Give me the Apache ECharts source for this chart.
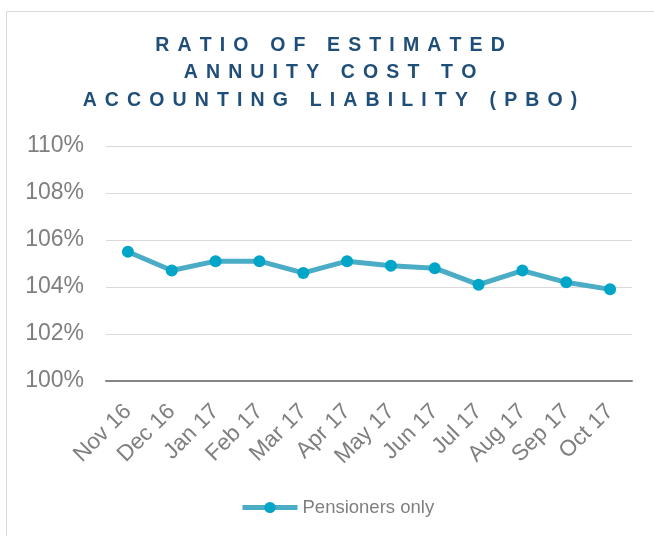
<!DOCTYPE html>
<html>
<head>
<meta charset="utf-8">
<script src="https://cdn.jsdelivr.net/npm/echarts@6/dist/echarts.min.js"></script>
<style>
html,body{margin:0;padding:0;background:#fff;}
#chart{width:654px;height:536px;}
</style>
</head>
<body>
<div id="chart"></div>
<script>
// ---- data ----
var titleLines = ['RATIO OF ESTIMATED', 'ANNUITY COST TO', 'ACCOUNTING LIABILITY (PBO)'];
var categories = ['Nov 16', 'Dec 16', 'Jan 17', 'Feb 17', 'Mar 17', 'Apr 17', 'May 17', 'Jun 17', 'Jul 17', 'Aug 17', 'Sep 17', 'Oct 17'];
var seriesName = 'Pensioners only';
var pensionersOnly = [105.5, 104.7, 105.1, 105.1, 104.6, 105.1, 104.9, 104.8, 104.1, 104.7, 104.2, 103.9];
var yMin = 100, yMax = 110, yStep = 2;

// letter-spaced title text (spacing via unicode space chars)
var GAP = '\u2004\u200A';
function spaced(s) {
  return s.split(' ').map(function (w) { return w.split('').join(GAP); }).join(GAP + ' ' + GAP);
}

var chart = echarts.init(document.getElementById('chart'), null, {renderer: 'canvas'});
chart.setOption({
  animation: false,
  backgroundColor: '#ffffff',
  title: {
    text: titleLines.map(spaced).join('\n'),
    left: 330,
    top: 32,
    padding: 0,
    textAlign: 'center',
    textStyle: {
      fontFamily: 'Arial, "Liberation Sans", sans-serif',
      fontSize: 19.5,
      fontWeight: 'bold',
      color: '#1F4E79',
      lineHeight: 27.3
    }
  },
  graphic: [{
    type: 'rect',
    z: -10,
    silent: true,
    shape: {x: 6.5, y: 11.5, width: 800, height: 700},
    style: {fill: 'none', stroke: '#d9d9d9', lineWidth: 1}
  }],
  legend: {
    data: [seriesName],
    left: 240,
    top: 498,
    itemWidth: 55,
    itemHeight: 14,
    padding: 0,
    lineStyle: {width: 5, color: '#4BACC6'},
    textStyle: {
      fontFamily: 'Arial, "Liberation Sans", sans-serif',
      fontSize: 18.5,
      color: '#7f7f7f'
    }
  },
  grid: {
    left: 106,
    right: 22,
    top: 146,
    bottom: 155,
    containLabel: false,
    outerBoundsMode: 'none'
  },
  xAxis: {
    type: 'category',
    data: categories,
    boundaryGap: true,
    axisLine: {lineStyle: {color: '#868686', width: 2}},
    axisTick: {show: false},
    axisLabel: {
      rotate: 45,
      align: 'right',
      verticalAlign: 'middle',
      margin: 27,
      interval: 0,
      fontFamily: 'Arial, "Liberation Sans", sans-serif',
      fontSize: 22.5,
      color: '#7f7f7f'
    },
    splitLine: {show: false}
  },
  yAxis: {
    type: 'value',
    min: yMin,
    max: yMax,
    interval: yStep,
    axisLine: {show: false},
    axisTick: {show: false},
    axisLabel: {
      formatter: '{value}%',
      margin: 22,
      fontFamily: 'Arial, "Liberation Sans", sans-serif',
      fontSize: 23,
      color: '#7f7f7f'
    },
    splitLine: {lineStyle: {color: '#d9d9d9', width: 1}}
  },
  series: [{
    name: seriesName,
    type: 'line',
    data: pensionersOnly,
    symbol: 'circle',
    symbolSize: 12,
    showAllSymbol: true,
    lineStyle: {color: '#4BACC6', width: 5},
    itemStyle: {color: '#00A5C8', borderWidth: 0}
  }]
});
</script>
</body>
</html>
